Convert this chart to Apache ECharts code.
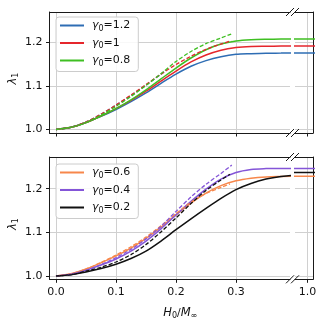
<!DOCTYPE html>
<html>
<head>
<meta charset="utf-8">
<script src="https://cdn.jsdelivr.net/npm/echarts@6/dist/echarts.min.js"></script>
<style>
  html, body { margin: 0; padding: 0; background: #fff; }
  #chart { width: 325px; height: 324px; }
</style>
</head>
<body>
<div id="chart"></div>
<script>
// x positions of the solid curves (H0/M_inf)
var xSolid = [0, 0.025, 0.05, 0.075, 0.1, 0.125, 0.15, 0.175, 0.2, 0.225, 0.25, 0.275, 0.3, 0.325, 0.35, 0.375, 0.4, 0.5, 0.7, 0.95, 1.0, 1.02]

// upper panel, solid
var topBlue = [1.000, 1.005, 1.016, 1.030, 1.046, 1.064, 1.084, 1.106, 1.127, 1.145, 1.158, 1.167, 1.1725, 1.174, 1.175, 1.1752, 1.1755, 1.1755, 1.1755, 1.1755, 1.1755, 1.1755]
var topRed = [1.000, 1.005, 1.016, 1.031, 1.048, 1.067, 1.088, 1.111, 1.134, 1.155, 1.171, 1.182, 1.188, 1.1905, 1.191, 1.1913, 1.1915, 1.1915, 1.1915, 1.1915, 1.1915, 1.1915]
var topGreen = [1.000, 1.005, 1.016, 1.031, 1.048, 1.068, 1.091, 1.116, 1.141, 1.164, 1.183, 1.196, 1.203, 1.206, 1.207, 1.2073, 1.2075, 1.2075, 1.2075, 1.2075, 1.2075, 1.2075]

// upper panel, dashed
var xDashBlue = [0, 0.025, 0.05, 0.075, 0.1, 0.125, 0.15, 0.175, 0.183]
var topBlueDash = [1.000, 1.005, 1.017, 1.035, 1.056, 1.078, 1.102, 1.127, 1.135]
var xDashTop = [0, 0.025, 0.05, 0.075, 0.1, 0.125, 0.15, 0.175, 0.2, 0.225, 0.25, 0.275, 0.292]
var topRedDash = [1.000, 1.005, 1.017, 1.035, 1.056, 1.079, 1.103, 1.127, 1.149, 1.168, 1.184, 1.196, 1.204]
var topGreenDash = [1.000, 1.005, 1.016, 1.033, 1.053, 1.076, 1.101, 1.128, 1.156, 1.179, 1.197, 1.210, 1.219]

// lower panel, solid
var botOrange = [1.000, 1.005, 1.016, 1.030, 1.046, 1.064, 1.086, 1.112, 1.140, 1.167, 1.190, 1.207, 1.218, 1.224, 1.227, 1.228, 1.2285, 1.2285, 1.2285, 1.2285, 1.2285, 1.2285]
var botPurple = [1.000, 1.004, 1.013, 1.025, 1.039, 1.057, 1.080, 1.108, 1.140, 1.171, 1.199, 1.222, 1.237, 1.244, 1.246, 1.2465, 1.2465, 1.2465, 1.2465, 1.2465, 1.2465, 1.2465]
var botBlack = [1.000, 1.003, 1.009, 1.017, 1.027, 1.040, 1.057, 1.080, 1.106, 1.131, 1.155, 1.178, 1.198, 1.212, 1.222, 1.228, 1.231, 1.234, 1.236, 1.237, 1.237, 1.237]

// lower panel, dashed
var xDashPurple = [0, 0.025, 0.05, 0.075, 0.1, 0.125, 0.15, 0.175, 0.2, 0.225, 0.25, 0.275, 0.293]
var botPurpleDash = [1.000, 1.004, 1.013, 1.026, 1.042, 1.061, 1.085, 1.114, 1.148, 1.181, 1.210, 1.235, 1.254]
var xDashBot = [0, 0.025, 0.05, 0.075, 0.1, 0.125, 0.15, 0.175, 0.2, 0.225, 0.25, 0.275, 0.29]
var botBlackDash = [1.000, 1.003, 1.011, 1.020, 1.032, 1.049, 1.072, 1.101, 1.133, 1.166, 1.196, 1.220, 1.233]
var botOrangeDash = [1.000, 1.005, 1.016, 1.031, 1.048, 1.067, 1.089, 1.115, 1.143, 1.169, 1.189, 1.203, 1.211]

var topNames = ['γ0=1.2', 'γ0=1', 'γ0=0.8']
var botNames = ['γ0=0.6', 'γ0=0.4', 'γ0=0.2']
var xTicksLeft = [0, 0.1, 0.2, 0.3]
var xTicksRight = [1.0]
var yTicks = [1.0, 1.1, 1.2]

var FONT = 'DejaVu Sans'
var GRIDC = '#d0d0d0'
var SPINE = '#1a1a1a'

// layout (px)
var L = 49.5, R1 = 290, R2 = 295, R = 313
var T1 = 12, B1 = 133, T2 = 157, B2 = 279.3

var chart = echarts.init(document.getElementById('chart'))

function pairs (xs, ys) {
  return xs.map(function (x, i) { return [x, ys[i]] })
}

function line (name, color, xs, ys, gi, dashed) {
  return {
    type: 'line',
    name: name,
    xAxisIndex: gi,
    yAxisIndex: gi,
    data: pairs(xs, ys),
    symbol: 'none',
    smooth: 0.3,
    silent: true,
    lineStyle: { color: color, width: dashed ? 1.3 : 1.5, type: dashed ? [4, 2] : 'solid' },
    itemStyle: { color: color },
    z: dashed ? 3 : 2
  }
}

function bottomAxis (gi, min, max, ticks, labels) {
  return {
    type: 'value', gridIndex: gi, min: min, max: max, position: 'bottom',
    axisLine: { show: true, onZero: false, lineStyle: { color: SPINE, width: 1 } },
    axisTick: { show: true, inside: false, length: 3.5, customValues: ticks, lineStyle: { color: SPINE, width: 1 } },
    axisLabel: { show: labels, customValues: ticks, margin: 7, color: '#111', fontFamily: FONT, fontSize: 11,
      formatter: function (v) { return v.toFixed(1) } },
    splitLine: { show: true, lineStyle: { color: GRIDC, width: 1 } }
  }
}

function topAxis (gi, min, max) {
  return {
    type: 'value', gridIndex: gi, min: min, max: max, position: 'top',
    axisLine: { show: true, onZero: false, lineStyle: { color: SPINE, width: 1 } },
    axisTick: { show: false }, axisLabel: { show: false }, splitLine: { show: false }
  }
}

function yLeft (gi, min, max) {
  return {
    type: 'value', gridIndex: gi, min: min, max: max, position: 'left',
    axisLine: { show: true, onZero: false, lineStyle: { color: SPINE, width: 1 } },
    axisTick: { show: true, inside: false, length: 3.5, customValues: yTicks, lineStyle: { color: SPINE, width: 1 } },
    axisLabel: { customValues: yTicks, margin: 7, color: '#111', fontFamily: FONT, fontSize: 11,
      formatter: function (v) { return v.toFixed(1) } },
    splitLine: { show: true, lineStyle: { color: GRIDC, width: 1 } }
  }
}

function yRight (gi, min, max) {
  return {
    type: 'value', gridIndex: gi, min: min, max: max, position: 'right',
    axisLine: { show: true, onZero: false, lineStyle: { color: SPINE, width: 1 } },
    axisTick: { show: false, customValues: yTicks },
    axisLabel: { show: false, customValues: yTicks },
    splitLine: { show: true, lineStyle: { color: GRIDC, width: 1 } }
  }
}

var legendRich = {
  g: { fontFamily: FONT, fontStyle: 'italic', fontSize: 11, color: '#111', lineHeight: 14, padding: [0, 0, 0, 3] },
  s: { fontFamily: FONT, fontSize: 8, color: '#111', verticalAlign: 'bottom', lineHeight: 11 },
  t: { fontFamily: FONT, fontSize: 11, color: '#111', lineHeight: 14 }
}

function legend (names, top) {
  return {
    data: names,
    orient: 'vertical',
    left: 56,
    top: top,
    padding: [3, 8, 4, 4],
    itemGap: 5,
    itemWidth: 24,
    itemHeight: 2,
    icon: 'rect',
    backgroundColor: 'rgba(255,255,255,0.85)',
    borderColor: '#cccccc',
    borderWidth: 1,
    borderRadius: 3,
    selectedMode: false,
    formatter: function (name) {
      return '{g|γ}{s|0}{t|=' + name.split('=')[1] + '}'
    },
    textStyle: { rich: legendRich }
  }
}

var labelRich = {
  i: { fontFamily: FONT, fontStyle: 'italic', fontSize: 11.5, fill: '#111', lineHeight: 14 },
  n: { fontFamily: FONT, fontSize: 11, fill: '#111', lineHeight: 14 },
  s: { fontFamily: FONT, fontSize: 8, fill: '#111', verticalAlign: 'bottom', lineHeight: 10 }
}

// break marks "//" at the junction of the two x ranges
var decor = []
;[T1, B1, T2, B2].forEach(function (y) {
  ;[R1, R2].forEach(function (x) {
    decor.push({
      type: 'line',
      shape: { x1: x - 4, y1: y + 4, x2: x + 4, y2: y - 4 },
      style: { stroke: SPINE, lineWidth: 1 },
      z: 100
    })
  })
})

// axis titles
decor.push({
  type: 'text',
  left: (L + R) / 2 - 18,
  top: 307,
  style: { text: '{i|H}{s|0}{n|/}{i|M}{s|∞}', rich: labelRich }
})
;[[T1, B1], [T2, B2]].forEach(function (p) {
  decor.push({
    type: 'text',
    x: 13,
    y: (p[0] + p[1]) / 2 + 6,
    rotation: Math.PI / 2,
    style: { text: '{i|λ}{s|1}', rich: labelRich, align: 'center', verticalAlign: 'middle' }
  })
})

var xl = [-0.0108, 0.39]
var xr = [0.979, 1.0092]
var yt = [0.992, 1.2695]
var yb = [0.9924, 1.2726]

chart.setOption({
  animation: false,
  backgroundColor: '#fff',
  grid: [
    { left: L, top: T1, width: R1 - L, height: B1 - T1 },
    { left: R2, top: T1, width: R - R2, height: B1 - T1 },
    { left: L, top: T2, width: R1 - L, height: B2 - T2 },
    { left: R2, top: T2, width: R - R2, height: B2 - T2 }
  ],
  xAxis: [
    bottomAxis(0, xl[0], xl[1], xTicksLeft, false),
    bottomAxis(1, xr[0], xr[1], xTicksRight, false),
    bottomAxis(2, xl[0], xl[1], xTicksLeft, true),
    bottomAxis(3, xr[0], xr[1], xTicksRight, true),
    topAxis(0, xl[0], xl[1]),
    topAxis(1, xr[0], xr[1]),
    topAxis(2, xl[0], xl[1]),
    topAxis(3, xr[0], xr[1])
  ],
  yAxis: [
    yLeft(0, yt[0], yt[1]),
    yRight(1, yt[0], yt[1]),
    yLeft(2, yb[0], yb[1]),
    yRight(3, yb[0], yb[1])
  ],
  legend: [legend(topNames, 17), legend(botNames, 164)],
  graphic: decor,
  series: [
    line(topNames[0], '#2e6db4', xSolid, topBlue, 0, false),
    line(topNames[1], '#e5262c', xSolid, topRed, 0, false),
    line(topNames[2], '#3fbf22', xSolid, topGreen, 0, false),
    line(topNames[0], '#2e6db4', xSolid, topBlue, 1, false),
    line(topNames[1], '#e5262c', xSolid, topRed, 1, false),
    line(topNames[2], '#3fbf22', xSolid, topGreen, 1, false),
    line('d1', '#2e6db4', xDashBlue, topBlueDash, 0, true),
    line('d2', '#e5262c', xDashTop, topRedDash, 0, true),
    line('d3', '#3fbf22', xDashTop, topGreenDash, 0, true),

    line(botNames[0], '#f7874b', xSolid, botOrange, 2, false),
    line(botNames[1], '#8455d8', xSolid, botPurple, 2, false),
    line(botNames[2], '#111111', xSolid, botBlack, 2, false),
    line(botNames[0], '#f7874b', xSolid, botOrange, 3, false),
    line(botNames[1], '#8455d8', xSolid, botPurple, 3, false),
    line(botNames[2], '#111111', xSolid, botBlack, 3, false),
    line('d4', '#f7874b', xDashBot, botOrangeDash, 2, true),
    line('d5', '#8455d8', xDashPurple, botPurpleDash, 2, true),
    line('d6', '#111111', xDashBot, botBlackDash, 2, true)
  ]
})
</script>
</body>
</html>
